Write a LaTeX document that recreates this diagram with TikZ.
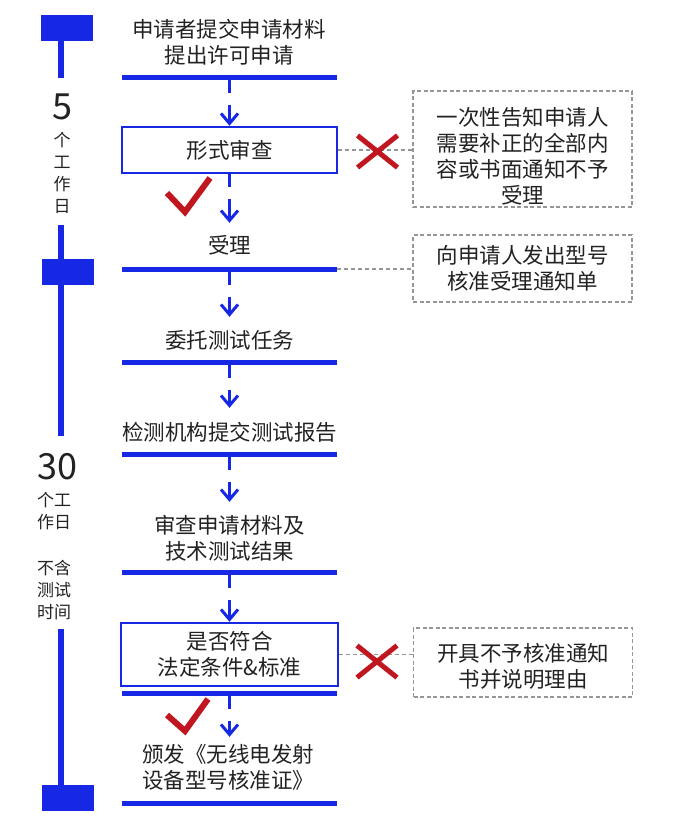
\documentclass[tikz,border=0pt]{standalone}
\usepackage{fontspec}
\setmainfont{Noto Sans CJK SC}
\usetikzlibrary{arrows.meta,shapes.misc}
\definecolor{fblue}{RGB}{22,40,228}
\definecolor{fred}{RGB}{192,22,32}
\definecolor{fgray}{RGB}{150,150,150}
\definecolor{ftext}{RGB}{34,34,34}
\tikzset{
  bar/.style={fill=fblue, inner sep=0pt, minimum width=215pt, minimum height=5pt},
  stepbox/.style={draw=fblue, line width=2.5pt, inner sep=0pt, minimum width=215pt, align=center},
  txt/.style={inner sep=0pt, align=center},
  note/.style={draw=fgray, dash pattern=on 4pt off 2.5pt, line width=1.3pt, minimum width=219pt, inner sep=0pt, align=center, font=\fontsize{21.5}{26}\selectfont},
  flow/.style={draw=fblue, line width=3.5pt, dash pattern=on 13pt off 12pt on 400pt, -{Straight Barb[length=10pt,width=17pt,line width=3pt]}},
  link/.style={draw=fgray, line width=1.3pt, dash pattern=on 4pt off 3pt},
  xmark/.style={cross out, draw=fred, line width=5pt, inner sep=0pt, minimum width=35pt, minimum height=27pt},
  tick/.style={draw=fred, line width=6pt},
  tl/.style={draw=fblue, line width=5.5pt},
  blk/.style={fill=fblue, inner sep=0pt, minimum width=52pt, minimum height=26pt},
  side/.style={font=\fontsize{17}{22}\selectfont, inner sep=0pt, align=left},
  big/.style={font=\fontsize{36}{40}\selectfont, inner sep=0pt}
}
\begin{document}
\begin{tikzpicture}[x=1pt, y=-1pt, font=\fontsize{21.5}{25.5}\selectfont, text=ftext]
\useasboundingbox[fill=white] (0,0) rectangle (678,817);

% main column
\node[txt] (apply) at (229,42) {申请者提交申请材料\\提出许可申请};
\node[bar] (bar1) at (229.5,77) {};
\node[stepbox, minimum height=46pt] (form) at (229.5,150) {形式审查};
\node[txt, minimum height=44pt] (accept) at (229.5,245) {受理};
\node[bar] (bar2) at (229.5,269) {};
\node[txt, minimum height=46pt] (entrust) at (229.5,340) {委托测试任务};
\node[bar] (bar3) at (229.5,362) {};
\node[txt, minimum height=48pt] (report) at (229.5,432) {检测机构提交测试报告};
\node[bar] (bar4) at (229.5,454) {};
\node[txt, minimum height=73pt] (review) at (229.5,538.5) {审查申请材料及\\技术测试结果};
\node[bar] (bar5) at (229.5,572) {};
\node[stepbox, minimum width=217pt, minimum height=63pt] (check) at (229.5,654.5) {是否符合\\法定条件\&标准};
\node[bar] (bar6) at (229.5,693) {};
\node[txt, minimum height=61pt] (issue) at (228,767.5) {颁发《无线电发射\\设备型号核准证》};
\node[bar] (bar7) at (229.5,803) {};

\draw[flow] (bar1.south) -- (form.north);
\draw[flow] (form.south) -- (form.south |- accept.north);
\draw[flow] (bar2.south) -- (bar2.south |- entrust.north);
\draw[flow] (bar3.south) -- (bar3.south |- report.north);
\draw[flow] (bar4.south) -- (bar4.south |- review.north);
\draw[flow] (bar5.south) -- (check.north);
\draw[flow] (bar6.south) -- (bar6.south |- issue.north);

% side notes
\node[note, minimum height=116pt] (n1) at (522.5,149) {\rule{0pt}{33pt}一次性告知申请人\\需要补正的全部内\\容或书面通知不予\\受理};
\node[note, minimum height=67pt] (n2) at (522.5,268.5) {向申请人发出型号\\核准受理通知单};
\node[note, minimum height=69pt] (n3) at (523,662.5) {\rule{0pt}{25pt}开具不予核准通知\\书并说明理由};

\draw[link] (form.east) -- (form.east -| n1.west);
\draw[link] (bar2.east) -- (bar2.east -| n2.west);
\draw[link] (check.east) -- (check.east -| n3.west);

\node[xmark] (x1) at (377.5,151.5) {};
\node[xmark] (x2) at (377,661.5) {};
\draw[tick] (167,193) -- (185,212) -- (210,178);
\draw[tick] (167,715) -- (185,731) -- (208,699);

% timeline
\node[blk] (t1) at (67,28) {};
\node[blk] (t2) at (67.5,272) {};
\node[blk] (t3) at (68,797.5) {};
\draw[tl] (61,41) -- (61,78);
\draw[tl] (61,225) -- (61,436);
\draw[tl] (61,629) -- (61,786);
\node[big] (d5) at (62,107) {5};
\node[side, align=center] (w5) at (62,173) {个\\工\\作\\日};
\node[big] (d30) at (57,467) {30};
\node[side, anchor=west] (w30a) at (37,511.5) {个工\\作日};
\node[side, anchor=west] (w30b) at (37,590) {不含\\测试\\时间};
\end{tikzpicture}
\end{document}
